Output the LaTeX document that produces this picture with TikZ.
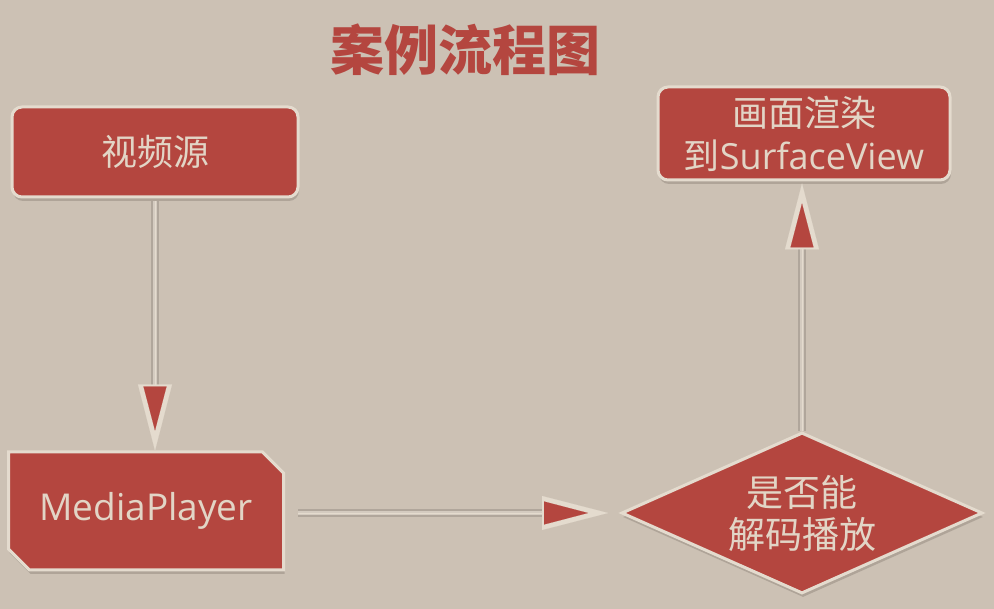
\documentclass[tikz,border=0pt]{standalone}
\usepackage{fontspec}
\setmainfont{Open Sans}
\newfontfamily\cjk{Noto Sans CJK SC}
\usetikzlibrary{shapes.geometric,shapes.misc,shadows,arrows.meta,calc}
\definecolor{bgc}{RGB}{204,193,180}
\definecolor{redc}{RGB}{180,70,63}
\definecolor{txtc}{RGB}{226,213,198}
\definecolor{edgec}{RGB}{228,219,206}
\definecolor{shadowc}{RGB}{140,130,120}
\definecolor{linec}{RGB}{176,166,155}
\definecolor{linein}{RGB}{212,203,192}
\begin{document}
\begin{tikzpicture}[x=1pt,y=1pt,
  box/.style={fill=redc, draw=edgec, line width=3pt, text=txtc, inner sep=0pt, align=center,
    drop shadow={shadow xshift=1pt,shadow yshift=-4pt,fill=shadowc,opacity=0.45}},
  conn/.style={draw=linec, double=linein, line width=1.3pt, double distance=4.5pt},
  tipo/.style={draw=edgec, line width=0.1pt, -{Triangle[length=66pt,width=34pt,fill=edgec,color=edgec]}},
  tipi/.style={draw=edgec, line width=0.1pt, -{Triangle[length=44pt,width=23pt,fill=redc,color=redc]}, shorten >=20pt}]
\fill[bgc] (0,0) rectangle (994,609);
\useasboundingbox (0,0) rectangle (994,609);

\node[text=redc, font=\cjk\bfseries\fontsize{54}{60}\selectfont] (title) at (465,559) {案例流程图};

\node[box, rounded corners=10pt, minimum width=286pt, minimum height=90pt,
  font=\cjk\fontsize{36}{40}\selectfont] (src) at (155,457) {视频源};

\node[box, chamfered rectangle, chamfered rectangle corners={north east,south west},
  chamfered rectangle xsep=10.5pt, chamfered rectangle ysep=10.5pt,
  minimum width=275pt, minimum height=118pt,
  font=\fontsize{37}{40}\selectfont] (mp) at (146,98) {MediaPlayer};

\node[box, diamond, aspect=2.24, minimum width=361pt, minimum height=161pt,
  font=\cjk\fontsize{37}{42}\selectfont] (dia) at (802,96) {是否能\\解码播放};

\node[box, rounded corners=10pt, minimum width=292pt, minimum height=93pt,
  font=\cjk\fontsize{36}{43}\selectfont] (out) at (804,475.5) {画面渲染\\到{\rmfamily SurfaceView}};

% connector 1
\draw[conn, shorten <=3pt, shorten >=55pt] (src.south) -- (src.south |- mp.north);
\draw[tipo, shorten <=3pt] (src.south) -- (src.south |- mp.north);
\draw[tipi, shorten <=3pt] (src.south) -- (src.south |- mp.north);

% connector 2
\draw[conn, shorten <=13pt, shorten >=55pt] (mp.east |- dia.west) -- ($(dia.west)+(-12,0)$);
\draw[tipo, shorten <=13pt] (mp.east |- dia.west) -- ($(dia.west)+(-12,0)$);
\draw[tipi, shorten <=13pt] (mp.east |- dia.west) -- ($(dia.west)+(-12,0)$);

% connector 3
\draw[conn, shorten >=55pt] (dia.north) -- ($(dia.north |- out.south)+(0,-2)$);
\draw[tipo] (dia.north) -- ($(dia.north |- out.south)+(0,-2)$);
\draw[tipi] (dia.north) -- ($(dia.north |- out.south)+(0,-2)$);
\end{tikzpicture}
\end{document}
